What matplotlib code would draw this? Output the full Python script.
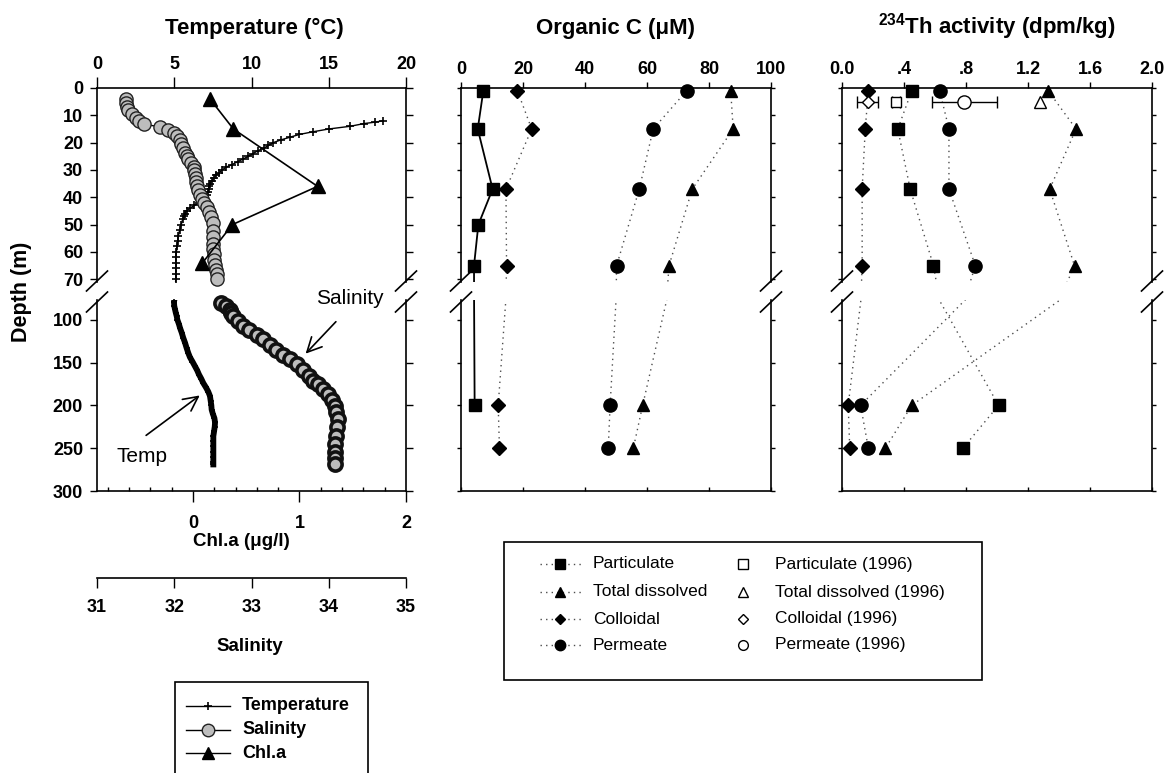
import numpy as np
import matplotlib
matplotlib.use('Agg')
import matplotlib.pyplot as plt
from matplotlib.lines import Line2D
from matplotlib.patches import Rectangle

plt.rcParams['font.family'] = ['Liberation Sans', 'DejaVu Sans']
plt.rcParams['font.weight'] = 'bold'
plt.rcParams['axes.linewidth'] = 1.2
plt.rcParams['mathtext.fontset'] = 'custom'
plt.rcParams['mathtext.bf'] = 'Liberation Sans:bold'
plt.rcParams['mathtext.rm'] = 'Liberation Sans'

# ---- left panel: CTD profile (depth in m) ----
temp_depth = [12, 12.5, 13, 14, 15, 16, 17, 18, 19, 20, 21, 22, 23, 24, 25, 26, 27, 28, 29, 30,
              31, 32, 33, 34, 35, 36, 37, 38, 39, 40, 41, 42, 43, 44, 45, 46, 47, 48, 50, 52,
              54, 56, 58, 60, 62, 64, 66, 68, 70,
              79, 84, 88, 92, 96, 100, 105, 110, 115, 121, 127, 133, 139, 144, 149, 154, 159,
              164, 169, 174, 179, 184, 189, 195, 200, 205, 210, 215, 220, 225, 230, 236, 242,
              248, 254, 260, 266, 269]
temp_val = [18.5, 18.0, 17.3, 16.4, 15.0, 14.0, 13.1, 12.5, 11.9, 11.4, 11.1, 10.8, 10.4, 10.1,
            9.8, 9.45, 9.1, 8.75, 8.35, 8.1, 7.9, 7.7, 7.55, 7.45, 7.3, 7.25, 7.22, 7.2, 7.1, 7.0,
            6.88, 6.6, 6.3, 6.0, 5.8, 5.7, 5.6, 5.55, 5.45, 5.35, 5.27, 5.22, 5.17, 5.14, 5.11,
            5.1, 5.1, 5.1, 5.1,
            4.98, 5.0, 5.05, 5.1, 5.16, 5.2, 5.3, 5.38, 5.48, 5.58, 5.7, 5.8, 5.91, 6.02, 6.18,
            6.33, 6.48, 6.6, 6.75, 6.88, 7.05, 7.2, 7.31, 7.36, 7.4, 7.42, 7.5, 7.6, 7.64, 7.62,
            7.58, 7.53, 7.53, 7.53, 7.53, 7.53, 7.53, 7.53]

sal_depth = [4, 5.5, 7, 8, 9.6, 10.8, 12, 13.3, 14.2, 15.4, 16.5, 17.5, 19, 20.5, 22, 23.9, 25,
             26.1, 27.5, 28.8, 30, 31.4, 33, 34.4, 36, 37.4, 39, 40.5, 42, 43.6, 45.5, 47.3,
             49.5, 52.3, 54.5, 57.2, 59, 60.9, 62.8, 64.7, 66.5, 68, 69.9,
             80.6, 84, 88.4, 92, 96.1, 102, 107.8, 112, 117.4, 123, 129, 135, 140.7, 146,
             152.3, 159, 166, 171, 175.6, 181, 187.2, 194, 200.8, 208, 216.3, 225, 235.7, 245,
             255, 262, 268.6]
sal_val = [31.38, 31.38, 31.39, 31.40, 31.45, 31.50, 31.55, 31.61, 31.82, 31.92, 32.00, 32.04,
           32.07, 32.09, 32.11, 32.14, 32.16, 32.18, 32.22, 32.25, 32.26, 32.27, 32.28, 32.28,
           32.29, 32.31, 32.33, 32.36, 32.39, 32.42, 32.45, 32.48, 32.50, 32.50, 32.50, 32.50,
           32.50, 32.51, 32.52, 32.53, 32.54, 32.55, 32.55,
           32.61, 32.67, 32.72, 32.74, 32.76, 32.82, 32.89, 32.97, 33.07, 33.15, 33.24, 33.32,
           33.41, 33.50, 33.59, 33.67, 33.74, 33.80, 33.86, 33.93, 33.99, 34.04, 34.08, 34.10,
           34.12, 34.11, 34.09, 34.08, 34.08, 34.08, 34.08]

chl_depth = [4, 15, 36, 50, 64]
chl_val = [0.16, 0.38, 1.17, 0.37, 0.09]

# ---- middle panel: organic carbon (uM) ----
oc_depth = [1, 15, 37, 65, 200, 250]
oc_part_depth = [1, 15, 37, 50, 65, 200]
oc_part = [7.2, 5.4, 10.2, 5.6, 4.2, 4.4]
oc_tdis = [87.0, 87.8, 74.6, 67.1, 58.6, 55.6]
oc_coll = [18.2, 22.8, 14.5, 14.7, 12.0, 12.4]
oc_perm = [72.8, 62.0, 57.5, 50.2, 48.1, 47.5]

# ---- right panel: 234Th activity (dpm/kg) ----
th_depth = [1, 15, 37, 65, 200, 250]
th_part = [0.45, 0.36, 0.44, 0.59, 1.01, 0.78]
th_tdis = [1.33, 1.51, 1.34, 1.50, 0.45, 0.28]
th_coll = [0.17, 0.15, 0.13, 0.13, 0.04, 0.05]
th_perm = [0.63, 0.69, 0.69, 0.86, 0.12, 0.17]
th96_depth = 5
th96_val = [0.35, 1.28, 0.165, 0.79]   # particulate, total dissolved, colloidal, permeate
th96_err = [0.025, 0.0, 0.07, 0.21]

W, H = 1166, 773
TOP_PX, BOT_PX = (88, 282), (300, 491)
TOP_LIM, BOT_LIM = (71, 0), (300, 77)
PANELS = {'L': (97, 406), 'M': (461, 771), 'R': (842, 1152)}

fig = plt.figure(figsize=(W / 100, H / 100), dpi=100)


def rect(x0, y0, x1, y1):
    return [x0 / W, 1 - y1 / H, (x1 - x0) / W, (y1 - y0) / H]


def fp(x, y):
    return x / W, 1 - y / H


def make_pair(key):
    x0, x1 = PANELS[key]
    at = fig.add_axes(rect(x0, TOP_PX[0], x1, TOP_PX[1]))
    ab = fig.add_axes(rect(x0, BOT_PX[0], x1, BOT_PX[1]))
    at.set_ylim(*TOP_LIM)
    ab.set_ylim(*BOT_LIM)
    at.spines['bottom'].set_visible(False)
    ab.spines['top'].set_visible(False)
    # break marks
    for xc in (x0, x1):
        for yc in (281, 302):
            fig.add_artist(Line2D([(xc - 10.5) / W, (xc + 10.5) / W],
                                  [1 - (yc + 10) / H, 1 - (yc - 10) / H], color='k', lw=1.2))
    return at, ab


def series(ax, x, d, lo, hi, line_kw, mk_kw):
    x = np.asarray(x, float)
    d = np.asarray(d, float)
    if line_kw is not None:
        ax.plot(x, d, **line_kw)
    keep = (d >= lo) & (d <= hi)
    ax.plot(x[keep], d[keep], linestyle='none', clip_on=False, **mk_kw)


RANGES = [(0, 71), (77, 300)]
DOT = dict(linestyle=(0, (1, 3)), color='0.3', lw=1.0)
MK = {
    'part': dict(marker='s', ms=8.5, mfc='k', mec='k'),
    'tdis': dict(marker='^', ms=9, mfc='k', mec='k'),
    'coll': dict(marker='D', ms=6.8, mfc='k', mec='k'),
    'perm': dict(marker='o', ms=9.5, mfc='k', mec='k'),
}

# ================= left panel =================
Lt, Lb = make_pair('L')
tl_sal = Lt.twiny()
tl_chl = Lt.twiny()
bl_tmp = Lb.twiny()
bl_sal = Lb.twiny()
for t in (tl_sal, tl_chl, bl_tmp):
    t.axis('off')
tl_sal.set_xlim(31, 35)
bl_sal.set_xlim(31, 35)
tl_chl.set_xlim(-0.9, 2)
bl_tmp.set_xlim(0, 20)

Lt.set_xlim(0, 20)
Lt.xaxis.tick_top()
Lt.set_xticks([0, 5, 10, 15, 20])
Lt.tick_params(axis='x', top=True, bottom=False, labeltop=True, labelbottom=False,
               direction='out', length=8, width=1, pad=2.5, labelsize=13)
Lt.set_yticks(range(0, 71, 10))
Lt.tick_params(axis='y', left=True, right=True, direction='out', length=5, width=1,
               pad=5, labelsize=13)

Lb.set_xlim(-0.9, 2)
Lb.xaxis.tick_bottom()
Lb.set_xticks([0, 1, 2])
Lb.set_xticks([v / 10 for v in range(-8, 20, 2) if v % 10 != 0], minor=True)
Lb.tick_params(axis='x', which='major', direction='out', length=8, width=1, pad=9, labelsize=13)
Lb.tick_params(axis='x', which='minor', direction='in', length=3, width=1)
Lb.set_yticks([100, 150, 200, 250, 300])
Lb.tick_params(axis='y', left=True, right=True, direction='out', length=5, width=1,
               pad=5, labelsize=13)

bl_sal.xaxis.tick_bottom()
bl_sal.spines['bottom'].set_position(('outward', 62.6))
for s in ('top', 'left', 'right'):
    bl_sal.spines[s].set_visible(False)
bl_sal.set_xticks([31, 32, 33, 34, 35])
bl_sal.tick_params(axis='x', top=False, bottom=True, direction='out', length=7, width=1,
                   pad=8.5, labelsize=13)

temp_mk = dict(marker='+', ms=6, mew=1.2, color='k')
sal_mk = dict(marker='o', ms=9.5, mfc='#bdbdbd', mec='#222222', mew=1.0)
# deep CTD data are so dense in the original that they print as a dark band
sal_mk_deep = dict(marker='o', ms=9.5, mfc='#bdbdbd', mec='#111111', mew=2.6)

series(Lt, temp_val, temp_depth, *RANGES[0], dict(color='k', lw=1.0), temp_mk)
series(tl_sal, sal_val, sal_depth, *RANGES[0], dict(color='k', lw=1.0), sal_mk)
series(tl_chl, chl_val, chl_depth, *RANGES[0], dict(color='k', lw=1.2),
       dict(marker='^', ms=10, mfc='k', mec='k'))
series(bl_tmp, temp_val, temp_depth, *RANGES[1], dict(color='k', lw=4.2),
       dict(marker='+', ms=5, mew=1.2, color='k'))
series(bl_sal, sal_val, sal_depth, *RANGES[1], dict(color='k', lw=6), sal_mk_deep)

Lb.annotate('', xy=(1.04, 142), xytext=(1.36, 100),
            arrowprops=dict(arrowstyle='->', lw=1.2, mutation_scale=26, color='k'))
Lb.text(1.47, 75, 'Salinity', ha='center', va='center', fontsize=15, fontweight='normal',
        clip_on=False)
Lb.annotate('', xy=(0.085, 186.5), xytext=(-0.46, 237),
            arrowprops=dict(arrowstyle='->', lw=1.2, mutation_scale=26, color='k'))
Lb.text(-0.48, 260, 'Temp', ha='center', va='center', fontsize=15, fontweight='normal')

fig.text(*fp(254, 34), 'Temperature (°C)', ha='center', va='baseline', fontsize=16)
fig.text(*fp(241, 546), 'Chl.a (μg/l)', ha='center', va='baseline', fontsize=13.5)
fig.text(*fp(250, 651), 'Salinity', ha='center', va='baseline', fontsize=13.5)
fig.text(*fp(21, 292), 'Depth (m)', ha='center', va='center', rotation=90, fontsize=15.5)

# ================= middle panel =================
Mt, Mb = make_pair('M')
for ax, (lo, hi) in zip((Mt, Mb), RANGES):
    ax.set_xlim(0, 100)
    series(ax, oc_part, oc_part_depth, lo, hi, dict(color='k', lw=1.3), MK['part'])
    series(ax, oc_tdis, oc_depth, lo, hi, DOT, MK['tdis'])
    series(ax, oc_coll, oc_depth, lo, hi, DOT, MK['coll'])
    series(ax, oc_perm, oc_depth, lo, hi, DOT, MK['perm'])
    ax.set_xticks(range(0, 101, 20))

fig.text(*fp(616, 34), 'Organic C (μM)', ha='center', va='baseline', fontsize=16)

# ================= right panel =================
Rt, Rb = make_pair('R')
for ax, (lo, hi) in zip((Rt, Rb), RANGES):
    ax.set_xlim(0, 2)
    series(ax, th_part, th_depth, lo, hi, DOT, MK['part'])
    series(ax, th_tdis, th_depth, lo, hi, DOT, MK['tdis'])
    series(ax, th_coll, th_depth, lo, hi, DOT, MK['coll'])
    series(ax, th_perm, th_depth, lo, hi, DOT, MK['perm'])
    ax.set_xticks([0, 0.4, 0.8, 1.2, 1.6, 2.0])

open_mk = ['s', '^', 'D', 'o']
open_ms = [6.5, 8, 6.5, 9.5]
for v, e, m, s in zip(th96_val, th96_err, open_mk, open_ms):
    Rt.errorbar([v], [th96_depth], xerr=[e] if e > 0 else None, fmt=m, ms=s, mfc='white',
                mec='k', mew=1.0, ecolor='k', elinewidth=1.0, capsize=4, clip_on=False,
                zorder=3)

Rt.set_xticklabels(['0.0', '.4', '.8', '1.2', '1.6', '2.0'])
fig.text(*fp(997, 34), r'$^{\mathbf{234}}$Th activity (dpm/kg)', ha='center', va='baseline',
         fontsize=16)

for at, ab in ((Mt, Mb), (Rt, Rb)):
    at.xaxis.tick_top()
    at.tick_params(axis='x', top=True, bottom=False, labeltop=True, labelbottom=False,
                   direction='out', length=4.5, width=1, pad=3, labelsize=13)
    at.set_yticks(range(0, 71, 10))
    at.tick_params(axis='y', left=True, right=True, labelleft=False, direction='out',
                   length=3, width=1)
    ab.tick_params(axis='x', bottom=True, labelbottom=False, direction='in', length=3, width=1)
    ab.set_yticks([100, 150, 200, 250, 300])
    ab.tick_params(axis='y', left=True, right=True, labelleft=False, direction='out',
                   length=3, width=1)

# ================= legends (drawn by hand) =================
fig.add_artist(Rectangle(fp(175, 790), (368 - 175) / W, (790 - 682) / H, fill=False,
                         lw=1.2, edgecolor='k', transform=fig.transFigure))
left_entries = [
    (706, 'Temperature', temp_mk),
    (730, 'Salinity', dict(marker='o', ms=9, mfc='#bdbdbd', mec='#222222', mew=1.0)),
    (753, 'Chl.a', dict(marker='^', ms=9, mfc='k', mec='k')),
]
for yy, lab, mk in left_entries:
    fig.add_artist(Line2D([186 / W, 230 / W], [1 - yy / H] * 2, color='k', lw=1.0))
    fig.add_artist(Line2D([208 / W], [1 - yy / H], linestyle='none', **mk))
    fig.text(242 / W, 1 - yy / H, lab, va='center', fontsize=13)

fig.add_artist(Rectangle(fp(504, 680), (982 - 504) / W, (680 - 542) / H, fill=False,
                         lw=1.2, edgecolor='k', transform=fig.transFigure))
mid_rows = [564, 592, 619, 645]
mid_labels = ['Particulate', 'Total dissolved', 'Colloidal', 'Permeate']
leg_filled = [dict(marker='s', ms=6.5), dict(marker='^', ms=7.5), dict(marker='D', ms=5.5),
              dict(marker='o', ms=7.5)]
leg_open = [dict(marker='s', ms=6.5), dict(marker='^', ms=6.5), dict(marker='D', ms=5.5),
            dict(marker='o', ms=7)]
for yy, lab, f, o in zip(mid_rows, mid_labels, leg_filled, leg_open):
    fy = 1 - yy / H
    fig.add_artist(Line2D([540 / W, 582 / W], [fy, fy], **DOT))
    fig.add_artist(Line2D([560 / W], [fy], linestyle='none', mfc='k', mec='k', **f))
    fig.text(593 / W, fy, lab, va='center', fontsize=12.5, fontweight='normal')
    fig.add_artist(Line2D([743 / W], [fy], linestyle='none', mfc='white', mec='k', mew=1.0, **o))
    fig.text(775 / W, fy, lab + ' (1996)', va='center', fontsize=12.5, fontweight='normal')

fig.savefig('out.png', dpi=100)
